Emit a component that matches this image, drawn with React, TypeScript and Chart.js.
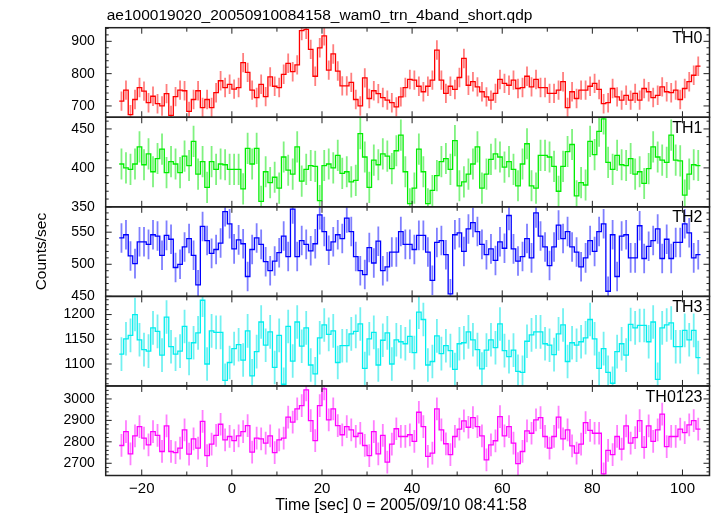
import React, { useEffect, useRef } from 'react';
import { Chart, registerables } from 'chart.js';

Chart.register(...registerables);

const FONT = "'Liberation Sans', Arial, Helvetica, sans-serif";

const titleText = 'ae100019020_20050910084158_wam0_trn_4band_short.qdp';
const xTitle = 'Time [sec] 0 = 2005/09/10 08:41:58';
const yTitle = 'Counts/sec';

// left edge of each 1-s time bin
const binStarts = [
  -25, -24, -23, -22, -21, -20, -19, -18, -17, -16, -15, -14, -13, -12, -11, -10, -9, -8, -7, -6,
  -5, -4, -3, -2, -1, 0, 1, 2, 3, 4, 5, 6, 7, 8, 9, 10, 11, 12, 13, 14,
  15, 16, 17, 18, 19, 20, 21, 22, 23, 24, 25, 26, 27, 28, 29, 30, 31, 32, 33, 34,
  35, 36, 37, 38, 39, 40, 41, 42, 43, 44, 45, 46, 47, 48, 49, 50, 51, 52, 53, 54,
  55, 56, 57, 58, 59, 60, 61, 62, 63, 64, 65, 66, 67, 68, 69, 70, 71, 72, 73, 74,
  75, 76, 77, 78, 79, 80, 81, 82, 83, 84, 85, 86, 87, 88, 89, 90, 91, 92, 93, 94,
  95, 96, 97, 98, 99, 100, 101, 102, 103,
];
const binWidth = 1;

const th0 = [
  715, 749, 673, 720, 757, 746, 710, 730, 707, 700, 738, 671, 729, 749, 747, 683, 720, 747, 695, 720,
  695, 741, 778, 757, 767, 752, 757, 834, 804, 749, 726, 767, 729, 790, 761, 757, 798, 832, 806, 827,
  933, 937, 875, 792, 880, 917, 811, 861, 808, 762, 762, 773, 720, 700, 787, 723, 747, 738, 726, 718,
  710, 697, 728, 757, 782, 780, 761, 744, 761, 780, 873, 780, 739, 761, 751, 788, 847, 764, 775, 759,
  744, 728, 718, 739, 782, 770, 764, 780, 754, 757, 792, 759, 782, 757, 757, 739, 739, 749, 775, 695,
  744, 723, 749, 749, 761, 770, 751, 707, 710, 754, 728, 718, 733, 718, 739, 718, 754, 744, 726, 733,
  759, 744, 741, 749, 720, 754, 775, 795, 823,
];
const th1 = [
  405, 400, 398, 405, 427, 404, 418, 395, 412, 424, 394, 408, 405, 394, 415, 403, 434, 392, 408, 375,
  408, 398, 405, 404, 398, 398, 398, 373, 425, 405, 425, 357, 395, 381, 388, 374, 414, 397, 392, 427,
  383, 398, 403, 402, 358, 403, 405, 400, 416, 393, 395, 382, 384, 444, 414, 375, 410, 404, 418, 415,
  399, 422, 442, 395, 354, 374, 424, 395, 354, 371, 390, 408, 412, 398, 435, 377, 382, 392, 405, 427,
  374, 392, 411, 418, 414, 401, 408, 398, 377, 405, 431, 377, 374, 416, 416, 414, 402, 370, 402, 421,
  430, 364, 381, 378, 434, 417, 447, 463, 407, 398, 416, 404, 403, 412, 392, 395, 380, 399, 427, 414,
  410, 407, 442, 410, 409, 365, 392, 404, 403,
];
const th2 = [
  541, 546, 513, 501, 535, 535, 531, 546, 544, 514, 545, 539, 495, 500, 527, 540, 514, 468, 559, 537,
  517, 523, 533, 582, 563, 524, 538, 532, 481, 523, 541, 531, 504, 490, 505, 518, 544, 512, 586, 512,
  537, 531, 521, 532, 577, 551, 522, 535, 546, 540, 572, 551, 512, 490, 484, 526, 502, 536, 490, 496,
  519, 519, 551, 531, 531, 523, 545, 545, 519, 475, 534, 537, 515, 454, 546, 549, 520, 555, 565, 551,
  531, 515, 524, 506, 535, 525, 576, 524, 505, 512, 540, 510, 580, 544, 527, 498, 527, 561, 540, 551,
  527, 519, 496, 510, 537, 520, 551, 563, 458, 546, 481, 544, 546, 510, 510, 560, 509, 528, 537, 555,
  509, 539, 509, 534, 534, 563, 549, 510, 515,
];
const th3 = [
  1120, 1151, 1158, 1200, 1149, 1129, 1126, 1173, 1166, 1118, 1195, 1135, 1120, 1126, 1176, 1111, 1143, 1163, 1229, 1100,
  1167, 1164, 1164, 1067, 1103, 1131, 1139, 1108, 1167, 1076, 1125, 1185, 1138, 1165, 1093, 1158, 1059, 1176, 1106, 1185,
  1136, 1173, 1098, 1080, 1153, 1179, 1160, 1167, 1103, 1137, 1137, 1161, 1166, 1181, 1091, 1151, 1164, 1098, 1148, 1163,
  1100, 1149, 1145, 1141, 1156, 1123, 1205, 1190, 1098, 1105, 1157, 1121, 1137, 1127, 1089, 1141, 1143, 1165, 1149, 1129,
  1090, 1128, 1149, 1133, 1181, 1127, 1115, 1128, 1085, 1083, 1146, 1159, 1165, 1165, 1141, 1138, 1119, 1161, 1179, 1105,
  1143, 1138, 1145, 1153, 1190, 1151, 1091, 1131, 1083, 1061, 1125, 1141, 1118, 1180, 1173, 1178, 1178, 1145, 1185, 1069,
  1173, 1179, 1183, 1135, 1135, 1168, 1149, 1168, 1113,
];
const th0123 = [
  2783, 2848, 2744, 2828, 2871, 2817, 2786, 2848, 2830, 2755, 2874, 2755, 2750, 2771, 2856, 2743, 2814, 2771, 2895, 2736,
  2789, 2830, 2882, 2809, 2825, 2806, 2828, 2848, 2876, 2752, 2817, 2814, 2794, 2828, 2750, 2809, 2817, 2915, 2892, 2954,
  2969, 3042, 2899, 2806, 2969, 3047, 2902, 2954, 2876, 2833, 2871, 2856, 2825, 2840, 2783, 2736, 2848, 2744, 2830, 2705,
  2789, 2861, 2825, 2825, 2833, 2802, 2938, 2871, 2732, 2747, 2954, 2856, 2791, 2740, 2825, 2859, 2898, 2868, 2913, 2871,
  2828, 2716, 2786, 2805, 2918, 2828, 2871, 2794, 2698, 2755, 2851, 2840, 2902, 2913, 2825, 2771, 2825, 2915, 2814, 2856,
  2781, 2747, 2789, 2890, 2853, 2840, 2840, 2651, 2760, 2740, 2825, 2766, 2874, 2794, 2820, 2899, 2774, 2874, 2802, 2856,
  2929, 2778, 2825, 2825, 2859, 2843, 2879, 2899, 2859,
];

const panelNames = ['TH0', 'TH1', 'TH2', 'TH3', 'TH0123'];
const panelSeries = [th0, th1, th2, th3, th0123];
const panelErrors = [30, 20, 23, 34, 53];
const panelMin = [665, 350, 450, 1055.6, 2643];
const panelMax = [942.2, 465, 589.5, 1236.8, 3060.7];
const majorSteps = [100, 50, 50, 50, 100];
const minorSteps = [20, 10, 10, 10, 20];
const lineColors = ['#ff0000', '#00ee00', '#0000ff', '#00eeee', '#ff00ff'];
const errColors = [
  'rgba(255,0,0,0.5)',
  'rgba(0,230,0,0.5)',
  'rgba(0,0,255,0.5)',
  'rgba(0,230,230,0.55)',
  'rgba(255,0,255,0.5)',
];

const xMin = -28;
const xMax = 106;
const xMajor = 20;
const xMinor = 10;

const fmt = (v: any) => {
  const n = Number(v);
  return n < 0 ? '\u2212' + Math.abs(n) : String(n);
};

const qdpPlugin = {
  id: 'qdpPanels',
  beforeDatasetsDraw(chart: any) {
    const ctx = chart.ctx;
    const xs = chart.scales.x;
    panelSeries.forEach((vals, i) => {
      const ys = chart.scales['y' + i];
      ctx.save();
      ctx.beginPath();
      ctx.rect(xs.left, ys.top, xs.right - xs.left, ys.bottom - ys.top);
      ctx.clip();
      ctx.strokeStyle = errColors[i];
      ctx.lineWidth = 1.8;
      ctx.beginPath();
      vals.forEach((v, k) => {
        const px = xs.getPixelForValue(binStarts[k] + binWidth / 2);
        ctx.moveTo(px, ys.getPixelForValue(v - panelErrors[i]));
        ctx.lineTo(px, ys.getPixelForValue(v + panelErrors[i]));
      });
      ctx.stroke();
      ctx.restore();
    });
  },
  afterDraw(chart: any) {
    const ctx = chart.ctx;
    const xs = chart.scales.x;
    ctx.save();
    panelSeries.forEach((_, i) => {
      const ys = chart.scales['y' + i];
      ctx.strokeStyle = '#222';
      ctx.lineWidth = 1;
      ctx.beginPath();
      const ys0 = Math.ceil(ys.min / minorSteps[i]) * minorSteps[i];
      for (let v = ys0; v <= ys.max; v += minorSteps[i]) {
        const py = ys.getPixelForValue(v);
        const len = v % majorSteps[i] === 0 ? 6 : 3;
        ctx.moveTo(xs.left, py);
        ctx.lineTo(xs.left + len, py);
        ctx.moveTo(xs.right, py);
        ctx.lineTo(xs.right - len, py);
      }
      const xs0 = Math.ceil(xs.min / xMinor) * xMinor;
      for (let t = xs0; t <= xs.max; t += xMinor) {
        const px = xs.getPixelForValue(t);
        const len = t % xMajor === 0 ? 6 : 4;
        ctx.moveTo(px, ys.top);
        ctx.lineTo(px, ys.top + len);
        ctx.moveTo(px, ys.bottom);
        ctx.lineTo(px, ys.bottom - len);
      }
      ctx.stroke();
      ctx.lineWidth = 1.5;
      ctx.strokeRect(xs.left, ys.top, xs.right - xs.left, ys.bottom - ys.top);

      ctx.fillStyle = '#000';
      ctx.font = `16px ${FONT}`;
      ctx.textAlign = 'right';
      ctx.textBaseline = 'alphabetic';
      ctx.fillText(panelNames[i], xs.right - 7, ys.top + 15.6);
    });

    ctx.fillStyle = '#000';
    ctx.font = `15.5px ${FONT}`;
    ctx.textAlign = 'left';
    ctx.textBaseline = 'alphabetic';
    ctx.fillText(titleText, 106.7, 19.5);

    ctx.font = `16px ${FONT}`;
    ctx.textAlign = 'center';
    ctx.fillText(xTitle, 401, 510.3);

    const top = chart.scales['y0'].top;
    const bottom = chart.scales['y' + (panelSeries.length - 1)].bottom;
    ctx.save();
    ctx.translate(42, (top + bottom) / 2);
    ctx.rotate(-Math.PI / 2);
    ctx.font = `15.5px ${FONT}`;
    ctx.textAlign = 'center';
    ctx.textBaseline = 'middle';
    ctx.fillText(yTitle, 0, 0);
    ctx.restore();
    ctx.restore();
  },
};

export default function App() {
  const canvasRef = useRef<HTMLCanvasElement | null>(null);

  useEffect(() => {
    const canvas = canvasRef.current;
    if (!canvas) return;

    const scales: any = {
      x: {
        type: 'linear',
        position: 'bottom',
        min: xMin,
        max: xMax,
        grid: { display: false, drawTicks: false },
        border: { display: false },
        ticks: {
          stepSize: xMajor,
          autoSkip: false,
          includeBounds: false,
          maxRotation: 0,
          padding: 4,
          color: '#000',
          font: { family: FONT, size: 15 },
          callback: fmt,
        },
        afterFit: (s: any) => {
          s.height = 40.5;
        },
      },
    };
    panelNames.forEach((_, i) => {
      scales['y' + i] = {
        type: 'linear',
        position: 'left',
        stack: 'qdp',
        stackWeight: 1,
        weight: panelNames.length - i,
        min: panelMin[i],
        max: panelMax[i],
        grid: { display: false, drawTicks: false },
        border: { display: false },
        ticks: {
          stepSize: majorSteps[i],
          autoSkip: false,
          includeBounds: false,
          padding: 11,
          color: '#000',
          font: { family: FONT, size: 14 },
          callback: fmt,
        },
        afterFit: (s: any) => {
          s.width = 105.7;
        },
      };
    });

    const datasets = panelSeries.map((vals, i) => {
      const pts = vals.map((v, k) => ({ x: binStarts[k], y: v }));
      pts.push({ x: binStarts[vals.length - 1] + binWidth, y: vals[vals.length - 1] });
      return {
        label: panelNames[i],
        data: pts,
        xAxisID: 'x',
        yAxisID: 'y' + i,
        borderColor: lineColors[i],
        borderWidth: 1.3,
        pointRadius: 0,
        stepped: 'before' as const,
        fill: false,
        tension: 0,
      };
    });

    const chart = new Chart(canvas, {
      type: 'line',
      data: { datasets },
      options: {
        responsive: false,
        maintainAspectRatio: false,
        animation: false,
        devicePixelRatio: 1,
        events: [],
        layout: { padding: { top: 27.7, right: 7.5, left: 0, bottom: 0 } },
        plugins: { legend: { display: false }, tooltip: { enabled: false }, title: { display: false } },
        scales,
      } as any,
      plugins: [qdpPlugin],
    });
    return () => chart.destroy();
  }, []);

  return (
    <div style={{ position: 'absolute', left: 0, top: 0, width: 717, height: 516, background: '#fff' }}>
      <canvas ref={canvasRef} width={717} height={516} style={{ width: 717, height: 516, display: 'block' }} />
    </div>
  );
}
